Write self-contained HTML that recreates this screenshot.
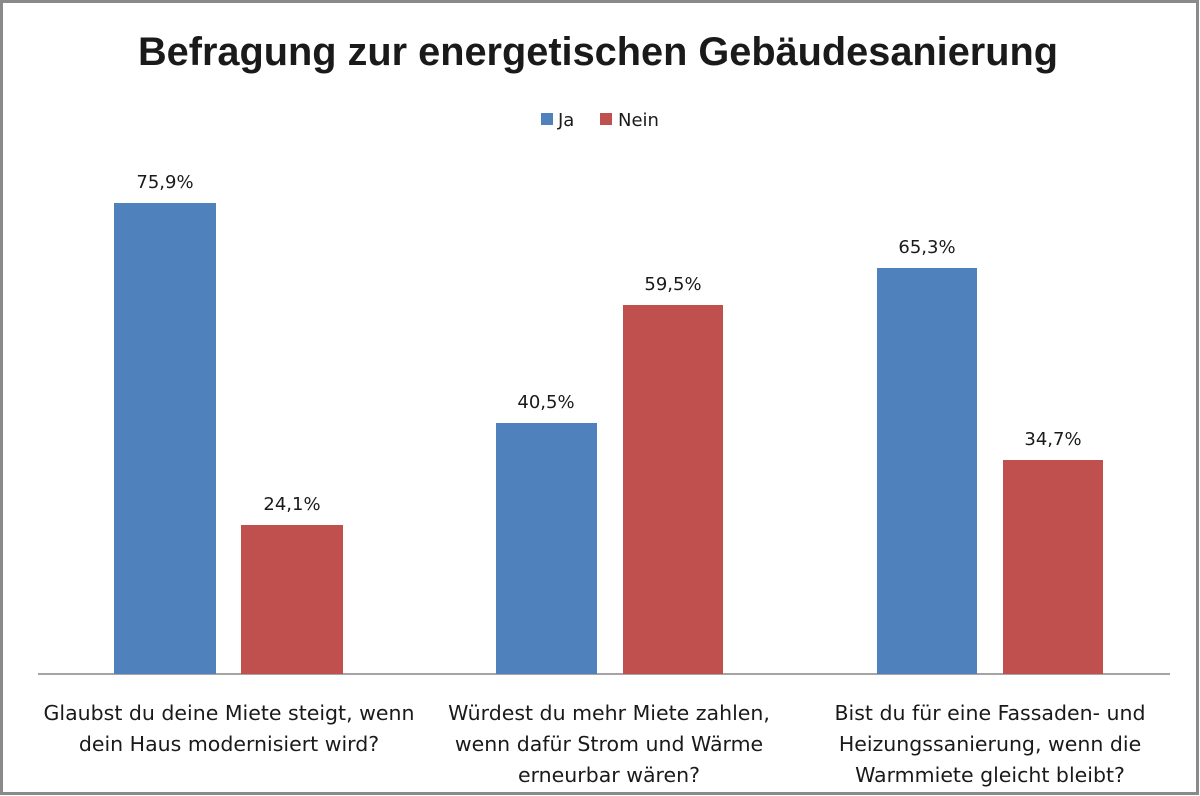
<!DOCTYPE html>
<html><head><meta charset="utf-8"><style>
html,body{margin:0;padding:0;background:#fff}
svg{display:block}
text{font-family:"DejaVu Sans","Liberation Sans",sans-serif;fill:#1a1a1a}
</style></head><body>
<svg width="1200" height="796" viewBox="0 0 1200 796" xmlns="http://www.w3.org/2000/svg">
<rect x="0" y="0" width="1200" height="796" fill="#fff"/>
<rect x="1.5" y="1.5" width="1196" height="792" fill="none" stroke="#8a8a8a" stroke-width="3"/>
<text x="138" y="65" textLength="920" lengthAdjust="spacingAndGlyphs" font-size="40" font-weight="bold" style="font-family:'Liberation Sans',sans-serif" fill="#000">Befragung zur energetischen Gebäudesanierung</text>
<rect x="541" y="113" width="12" height="12" fill="#4F81BD"/>
<text x="558" y="126" font-size="18">Ja</text>
<rect x="600" y="113" width="12" height="12" fill="#C0504D"/>
<text x="618" y="126" font-size="18">Nein</text>
<line x1="38" y1="674" x2="1170" y2="674" stroke="#868686" stroke-width="1.5"/>
<rect x="114" y="203" width="102" height="471" fill="#4F81BD"/>
<rect x="241" y="525" width="102" height="149" fill="#C0504D"/>
<rect x="496" y="423" width="101" height="251" fill="#4F81BD"/>
<rect x="623" y="305" width="100" height="369" fill="#C0504D"/>
<rect x="877" y="268" width="100" height="406" fill="#4F81BD"/>
<rect x="1003" y="460" width="100" height="214" fill="#C0504D"/>
<g font-size="18" text-anchor="middle">
<text x="165" y="188">75,9%</text>
<text x="292" y="510">24,1%</text>
<text x="546" y="408">40,5%</text>
<text x="673" y="290">59,5%</text>
<text x="927" y="253">65,3%</text>
<text x="1053" y="445">34,7%</text>
</g>
<g font-size="20.5" text-anchor="middle">
<text x="229" y="720">Glaubst du deine Miete steigt, wenn</text>
<text x="229" y="751">dein Haus modernisiert wird?</text>
<text x="609" y="720">Würdest du mehr Miete zahlen,</text>
<text x="609" y="751">wenn dafür Strom und Wärme</text>
<text x="609" y="782">erneurbar wären?</text>
<text x="990" y="720">Bist du für eine Fassaden- und</text>
<text x="990" y="751">Heizungssanierung, wenn die</text>
<text x="990" y="782">Warmmiete gleicht bleibt?</text>
</g>
</svg>
</body></html>
